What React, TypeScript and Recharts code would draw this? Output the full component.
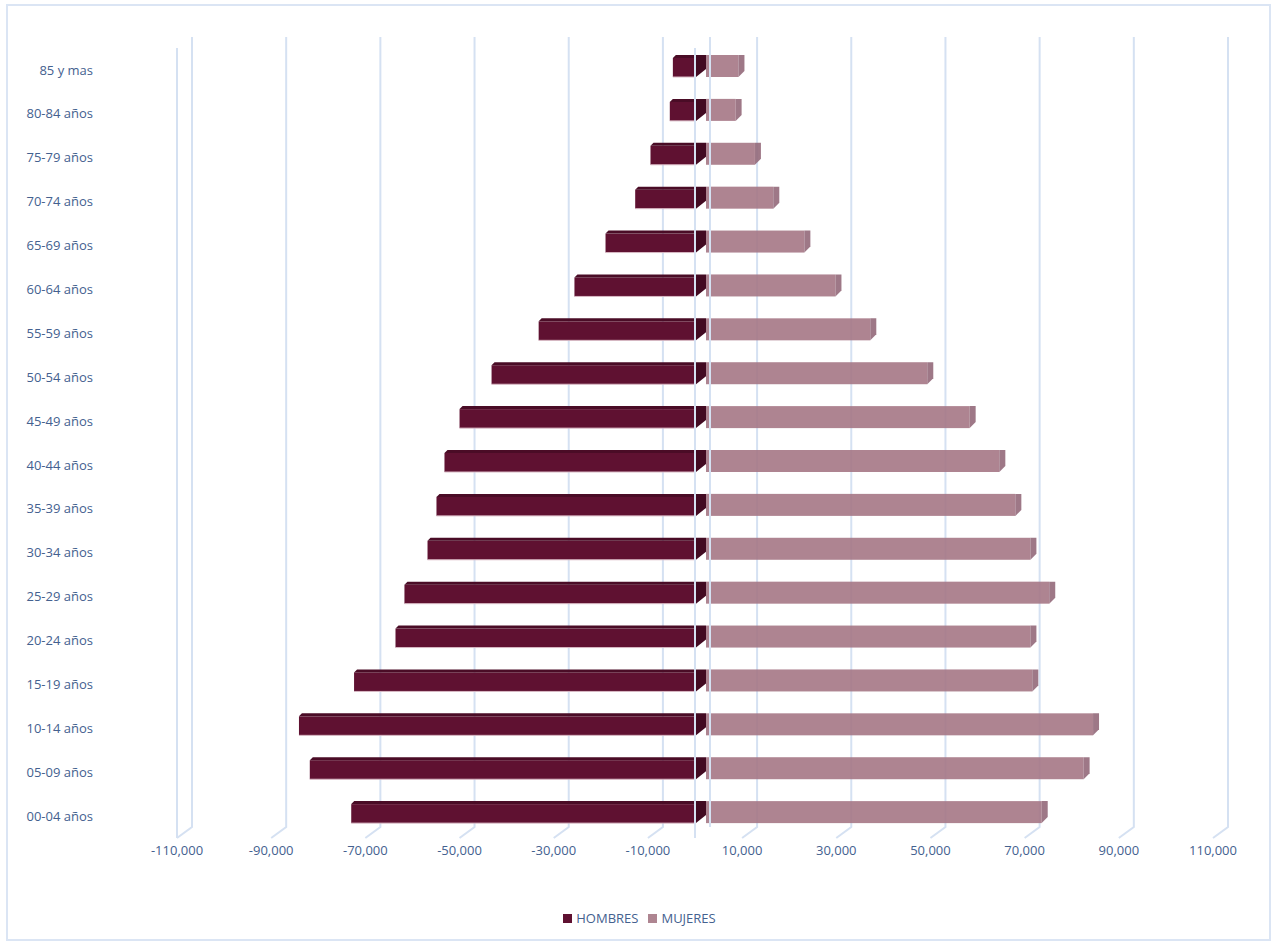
import {
  BarChart,
  Bar,
  XAxis,
  YAxis,
  CartesianGrid,
  ReferenceLine,
  Legend,
} from "recharts";

const AGE_GROUPS = [
  "85 y mas",
  "80-84 años",
  "75-79 años",
  "70-74 años",
  "65-69 años",
  "60-64 años",
  "55-59 años",
  "50-54 años",
  "45-49 años",
  "40-44 años",
  "35-39 años",
  "30-34 años",
  "25-29 años",
  "20-24 años",
  "15-19 años",
  "10-14 años",
  "05-09 años",
  "00-04 años",
];
const HOMBRES = [
  -4700, -5350, -9450, -12700, -19000, -25600, -33200, -43200, -50000, -53200,
  -54900, -56800, -61700, -63600, -72400, -84100, -81800, -73000,
];
const MUJERES = [
  10500, 9900, 14000, 17900, 24500, 31100, 38500, 50600, 59600, 65900, 69300,
  72500, 76500, 72500, 72900, 85800, 83800, 74900,
];
const X_TICKS = [
  -110000, -90000, -70000, -50000, -30000, -10000, 10000, 30000, 50000, 70000,
  90000, 110000,
];

const data = AGE_GROUPS.map((grupo, i) => ({
  grupo,
  hombres: HOMBRES[i],
  mujeres: MUJERES[i],
}));

const TEXT = "#44618f";
const GRID = "#d5e1f2";
const DX = 15; // 3d depth offset
const DY = 11;

function HombresShape(props: any) {
  const { x, y, width, height } = props;
  const left = Math.min(x, x + width);
  const right = Math.max(x, x + width);
  const top = y - 4;
  const bottom = top + height;
  return (
    <g>
      <rect x={left} y={top + 3} width={right - left} height={height - 3} fill="#5f1131" />
      <polygon
        points={`${left},${top + 3} ${left + 3},${top} ${right},${top} ${right},${top + 3}`}
        fill="#4a0c26"
      />
      <polygon
        points={`${right + 1},${top} ${right + 11},${top} ${right + 11},${bottom - 8} ${right + 1},${bottom}`}
        fill="#420a22"
      />
      <line x1={left} y1={bottom} x2={right} y2={bottom} stroke="#d8b9c4" strokeWidth={1} />
    </g>
  );
}

function MujeresShape(props: any) {
  const { x, y, width, height } = props;
  const left = Math.min(x, x + width) + 11;
  const right = Math.max(x, x + width);
  const top = y - 4;
  const bottom = top + height;
  return (
    <g>
      <rect
        x={left}
        y={top}
        width={Math.max(0, right - left - 6)}
        height={height}
        fill="#a57785"
        fillOpacity={0.9}
      />
      <polygon
        points={`${right - 6},${top} ${right},${top} ${right},${bottom - 6} ${right - 6},${bottom}`}
        fill="#94697a"
        fillOpacity={0.9}
      />
    </g>
  );
}

function GridLine(props: any) {
  const { x1, y1, y2, key } = props;
  const t = Math.min(y1, y2);
  const b = Math.max(y1, y2);
  return (
    <polyline
      key={key}
      points={`${x1 + DX},${t - DY} ${x1 + DX},${b - DY} ${x1},${b}`}
      fill="none"
      stroke={GRID}
      strokeWidth={2}
    />
  );
}

function WallLine(props: any) {
  const { x1, y1, y2 } = props;
  const t = Math.min(y1, y2);
  const b = Math.max(y1, y2);
  return (
    <g>
      <line x1={x1 + DX} y1={t - DY} x2={x1 + DX} y2={b - DY} stroke={GRID} strokeWidth={2} />
      <line x1={x1} y1={t} x2={x1} y2={b} stroke={GRID} strokeWidth={2} />
    </g>
  );
}

export default function App() {
  return (
    <div
      style={{
        position: "absolute",
        left: 0,
        top: 0,
        width: 1277,
        height: 945,
        background: "#fff",
        fontFamily: "'Open Sans', sans-serif",
      }}
    >
      <div
        style={{
          position: "absolute",
          left: 6,
          top: 4,
          width: 1265,
          height: 937,
          border: "2px solid #dbe5f4",
          boxSizing: "border-box",
        }}
      />
      <BarChart
        width={1277}
        height={945}
        data={data}
        layout="vertical"
        stackOffset="sign"
        barSize={22}
        margin={{ top: 48, right: 64, left: 0, bottom: 77 }}
      >
        <CartesianGrid horizontal={false} vertical={GridLine} />
        <XAxis
          type="number"
          domain={[-110000, 110000]}
          ticks={X_TICKS}
          interval={0}
          tickFormatter={(v: number) => v.toLocaleString("en-US")}
          axisLine={false}
          tickLine={false}
          tickSize={0}
          tickMargin={8}
          tick={{ fill: TEXT, fontSize: 13 }}
        />
        <YAxis
          type="category"
          dataKey="grupo"
          width={177}
          interval={0}
          axisLine={false}
          tickLine={false}
          tickSize={0}
          tickMargin={84}
          tick={{ fill: TEXT, fontSize: 13 }}
        />
        <Bar
          dataKey="hombres"
          name="HOMBRES"
          stackId="p"
          fill="#5f1131"
          shape={HombresShape}
          isAnimationActive={false}
        />
        <Bar
          dataKey="mujeres"
          name="MUJERES"
          stackId="p"
          fill="#ae8591"
          shape={MujeresShape}
          isAnimationActive={false}
        />
        <ReferenceLine x={0} shape={WallLine} />
        <ReferenceLine x={-110000} stroke={GRID} strokeWidth={2} />
        <Legend
          verticalAlign="middle"
          align="center"
          iconType="square"
          iconSize={9}
          wrapperStyle={{ top: 906, left: 6, width: 1277 }}
          formatter={(value: string) => (
            <span style={{ color: TEXT, fontSize: 13 }}>{value}</span>
          )}
        />
      </BarChart>
    </div>
  );
}
